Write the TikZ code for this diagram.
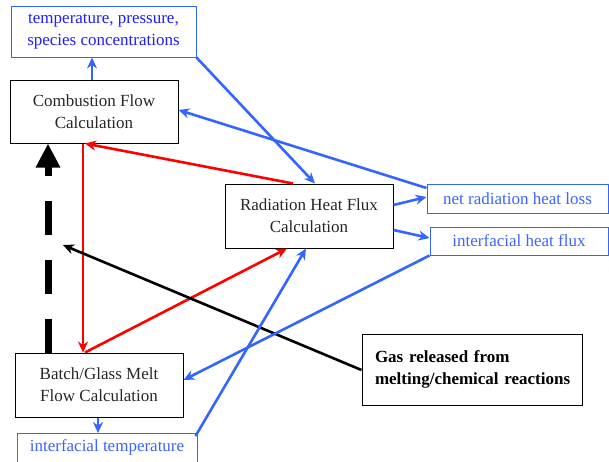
\documentclass[tikz,border=0pt]{standalone}
\usepackage{fontspec}
\setmainfont{Liberation Serif}
\usetikzlibrary{arrows.meta,calc}
\definecolor{bline}{RGB}{51,102,255}
\definecolor{btext}{RGB}{30,30,255}
\definecolor{btextb}{RGB}{60,100,255}
\definecolor{rline}{RGB}{255,0,0}
\begin{document}
\begin{tikzpicture}[x=1pt,y=-1pt,
  calcbox/.style={draw=black,line width=1pt,rectangle,align=center,inner sep=0pt,
    font=\fontsize{17}{22}\selectfont,text=black!85},
  infobox/.style={draw=bline,line width=1pt,rectangle,align=center,inner sep=0pt,
    font=\fontsize{17}{22}\selectfont,text=btextb},
  bluearrow/.style={draw=bline,line width=2.6pt,-{Stealth[length=11pt,width=10pt]}},
  redarrow/.style={draw=rline,line width=2.6pt,-{Stealth[length=11pt,width=10pt]}},
  blackarrow/.style={draw=black,line width=2.6pt,-{Stealth[length=11pt,width=10pt]}},
  bigdash/.style={draw=black,line width=7pt,dash pattern=on 34pt off 25pt,
    -{Triangle[length=24pt,width=23pt]}},
]
\useasboundingbox (0,0) rectangle (609,461);
\begin{scope}
\clip (0,0) rectangle (609,461);
\node[infobox,text=btext,minimum width=185pt,minimum height=51pt] (temp) at (103.5,31.5)
  {temperature, pressure,\\species concentrations};
\node[calcbox,minimum width=168pt,minimum height=63pt] (comb) at (94,111.5)
  {Combustion Flow\\Calculation};
\node[calcbox,minimum width=168pt,minimum height=64pt] (rad) at (309,216)
  {Radiation Heat Flux\\Calculation};
\node[calcbox,minimum width=168pt,minimum height=64pt] (batch) at (99,385)
  {Batch/Glass Melt\\Flow Calculation};
\node[infobox,minimum width=180pt,minimum height=32pt,anchor=north] (itemp) at (107,433) {};
\node[btextb,font=\fontsize{17}{22}\selectfont] (itemptext) at (107,447) {interfacial temperature};
\node[infobox,minimum width=181pt,minimum height=29pt] (netrad) at (517.5,198.5)
  {net radiation heat loss};
\node[infobox,minimum width=178pt,minimum height=28pt] (ihf) at (519,241)
  {interfacial heat flux};
\node[calcbox,text=black,minimum width=220pt,minimum height=71pt,text width=194pt,
  align=left,font=\fontsize{17}{22}\selectfont\bfseries] (gas) at (472,369.5)
  {\mbox{Gas released from}\\\mbox{melting/chemical reactions}\\[4pt]};
\coordinate (gastarget) at (63,245);

% dashed black thick arrow
\draw[bigdash] (batch.north -| 48,0) -- (comb.south -| 48,0);

% red arrows
\draw[redarrow] (rad.north -| 293,0) -- (comb.south -| 85,0);
\draw[redarrow] (comb.south -| 83,0) -- (batch.north -| 83,0);
\draw[redarrow] (batch.north -| 85,0) -- (rad.south -| 287,0);

% black arrow
\draw[blackarrow] (gas.west |- 0,370) -- (gastarget);

% blue arrows
\draw[bluearrow] (comb.north -| 92,0) -- (temp.south -| 92,0);
\draw[bluearrow] (temp.south east) -- (rad.north -| 315,0);
\draw[bluearrow] (netrad.west |- 0,188) -- (comb.east |- 0,110);
\draw[bluearrow] (rad.east |- 0,205) -- (netrad.west |- 0,197);
\draw[bluearrow] (rad.east |- 0,230) -- (ihf.west |- 0,238);
\draw[bluearrow] (ihf.south west) -- (batch.east |- 0,380);
\draw[bluearrow] (itemp.north east) ++(-2,3) -- (rad.south -| 306,0);
\draw[bluearrow] (batch.south -| 98,0) -- (itemp.north -| 98,0);
\end{scope}
\end{tikzpicture}
\end{document}
